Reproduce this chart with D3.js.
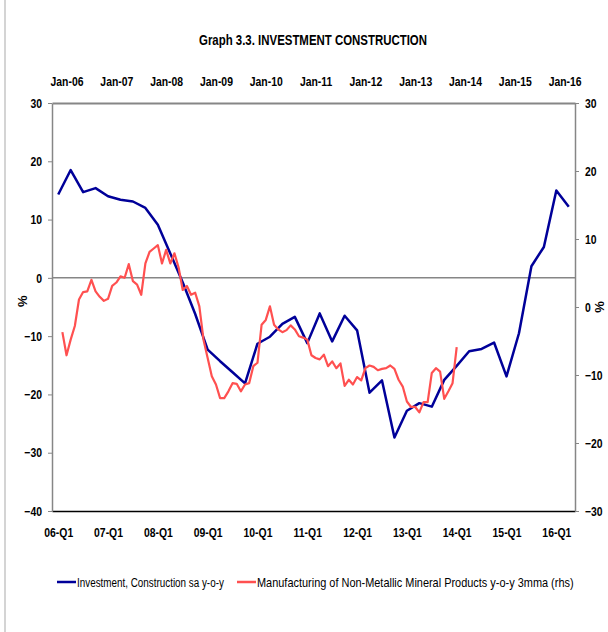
<!DOCTYPE html>
<html>
<head>
<meta charset="utf-8">
<style>
  body { margin: 0; background: #fff; }
  svg { display: block; font-family: "Liberation Sans", Arial, sans-serif; }
</style>
</head>
<body>
<svg id="chart" width="608" height="632"></svg>
<script src="https://cdn.jsdelivr.net/npm/d3@7/dist/d3.min.js"></script>
<script>
  // Investment, Construction sa y-o-y, quarterly 06-Q1 .. 16-Q2 (left axis)
  const investment = [14.3, 18.5, 14.7, 15.4, 14.0, 13.4, 13.1, 12.0, 9.1, 4.2, -0.8, -6.2,
    -12.3, -14.3, -16.2, -18.1, -11.3, -10.1, -7.9, -6.7, -11.2, -6.1, -10.9, -6.5,
    -9.0, -19.7, -17.6, -27.4, -22.8, -21.5, -22.1, -17.5, -15.1, -12.6, -12.2, -11.1,
    -16.9, -9.5, 2.0, 5.3, 15.0, 12.2]

  // Non-metallic mineral products y-o-y 3mma, monthly Dec-05 .. Nov-13 (right axis)
  const minerals = [-3.7, -7.1, -4.8, -2.8, 1.1, 2.2, 2.3, 4.0, 2.3, 1.5,
    0.9, 1.2, 3.1, 3.6, 4.5, 4.3, 6.3, 3.8, 3.3, 1.8,
    6.4, 8.1, 8.6, 9.1, 6.4, 8.4, 6.4, 7.9, 5.8, 2.5,
    3.1, 1.8, 2.1, 0.1, -4.8, -7.5, -10.2, -11.4, -13.4, -13.4,
    -12.4, -11.2, -11.3, -12.4, -11.4, -11.2, -8.7, -8.2, -2.6, -1.9,
    0.1, -2.6, -3.3, -3.7, -3.4, -2.7, -3.3, -4.3, -4.5, -4.8,
    -7.1, -7.5, -7.7, -7.0, -8.7, -8.0, -9.0, -8.3, -11.6, -10.7,
    -11.4, -10.3, -10.8, -9.0, -8.6, -8.8, -9.3, -9.1, -9.0, -8.6,
    -9.1, -10.7, -11.7, -13.9, -14.7, -14.7, -15.5, -14.0, -14.0, -9.7,
    -9.0, -9.5, -13.5, -12.4, -11.2, -5.9]

  const quarterTicks = ['06-Q1', '07-Q1', '08-Q1', '09-Q1', '10-Q1', '11-Q1', '12-Q1', '13-Q1', '14-Q1', '15-Q1', '16-Q1']
  const monthTicks = ['Jan-06', 'Jan-07', 'Jan-08', 'Jan-09', 'Jan-10', 'Jan-11', 'Jan-12', 'Jan-13', 'Jan-14', 'Jan-15', 'Jan-16']
  const leftTicks = [30, 20, 10, 0, -10, -20, -30, -40]
  const rightTicks = [30, 20, 10, 0, -10, -20, -30]

  const title = 'Graph 3.3. INVESTMENT CONSTRUCTION'
  const legendLabels = ['Investment, Construction sa y-o-y', 'Manufacturing of Non-Metallic Mineral Products y-o-y 3mma (rhs)']
  const colors = ['#000099', '#ff5050']

  // plot box
  const plotLeft = 52, plotRight = 575, plotTop = 103, plotBottom = 511

  // no narrow font installed: squeeze text horizontally like Calibri
  function squeeze(sel, k) {
    sel.each(function () {
      const len = this.getComputedTextLength()
      d3.select(this).attr('textLength', len * k).attr('lengthAdjust', 'spacingAndGlyphs')
    })
  }

  // quarter categories 06-Q1 .. 16-Q2
  const quarters = []
  for (let y = 6; y <= 16; y++) {
    for (let q = 1; q <= 4; q++) {
      if (quarters.length < investment.length) quarters.push(String(y).padStart(2, '0') + '-Q' + q)
    }
  }
  // month categories Oct-05 .. Mar-16 for the top axis
  const fmt = d3.timeFormat('%b-%y')
  const months = d3.timeMonth.range(new Date(2005, 9, 1), new Date(2016, 3, 1)).map(fmt)
  const mineralMonths = d3.timeMonth.range(new Date(2005, 11, 1), new Date(2013, 11, 1)).map(fmt)

  const xQ = d3.scalePoint().domain(quarters).range([plotLeft, plotRight]).padding(0.5)
  const xM = d3.scalePoint().domain(months).range([plotLeft, plotRight]).padding(0.5)
  const yL = d3.scaleLinear().domain([-40, 30]).range([plotBottom, plotTop])
  const yR = d3.scaleLinear().domain([-30, 30]).range([plotBottom, plotTop])

  const svg = d3.select('#chart')

  svg.append('rect').attr('width', 608).attr('height', 632).attr('fill', '#fff')
  // frame edge on the left
  svg.append('line').attr('x1', 5).attr('x2', 5).attr('y1', 0).attr('y2', 632)
    .attr('stroke', '#d4d4d4').attr('stroke-width', 2)

  svg.append('text')
    .attr('x', 313).attr('y', 45)
    .attr('text-anchor', 'middle')
    .style('font-size', '15px').style('font-weight', 'bold')
    .attr('textLength', 228).attr('lengthAdjust', 'spacingAndGlyphs')
    .text(title)

  // zero line of the left axis
  svg.append('line')
    .attr('x1', plotLeft).attr('x2', plotRight)
    .attr('y1', yL(0)).attr('y2', yL(0))
    .attr('stroke', '#868686').attr('stroke-width', 1.5)

  // top axis (months)
  const topAxis = svg.append('g')
    .attr('transform', `translate(0,${plotTop})`)
    .call(d3.axisTop(xM).tickValues(monthTicks).tickSize(0).tickPadding(17))
  topAxis.select('.domain').attr('stroke', '#868686').attr('stroke-width', 2)

  // bottom axis (quarters)
  const bottomAxis = svg.append('g')
    .attr('transform', `translate(0,${plotBottom})`)
    .call(d3.axisBottom(xQ).tickValues(quarterTicks).tickSize(0).tickPadding(17))
  bottomAxis.select('.domain').attr('stroke', '#000').attr('stroke-width', 1.5)

  const leftAxis = svg.append('g')
    .attr('transform', `translate(${plotLeft},0)`)
    .call(d3.axisLeft(yL).tickValues(leftTicks).tickSize(4).tickPadding(6).tickSizeOuter(0))
  leftAxis.select('.domain').attr('stroke', '#868686').attr('stroke-width', 1.5)

  const rightAxis = svg.append('g')
    .attr('transform', `translate(${plotRight},0)`)
    .call(d3.axisRight(yR).tickValues(rightTicks).tickSize(4).tickPadding(6).tickSizeOuter(0))
  rightAxis.select('.domain').attr('stroke', '#868686').attr('stroke-width', 1.5)

  svg.selectAll('.tick line').attr('stroke', '#868686')
  svg.selectAll('g').attr('font-family', null).attr('font-size', null)
  svg.selectAll('.tick text')
    .style('font-size', '13px').style('font-weight', 'bold').attr('fill', '#000')
    .call(squeeze, 0.8)

  // axis titles
  svg.append('text')
    .attr('transform', `translate(27,${yL(-4)}) rotate(-90)`)
    .attr('text-anchor', 'middle')
    .style('font-size', '13px').style('font-weight', 'bold')
    .text('%')
  svg.append('text')
    .attr('transform', `translate(604,${yR(0)}) rotate(-90)`)
    .attr('text-anchor', 'middle')
    .style('font-size', '13px').style('font-weight', 'bold')
    .text('%')

  // lines
  const lineQ = d3.line().x((d, i) => xQ(quarters[i])).y(d => yL(d))
  const lineM = d3.line().x((d, i) => xM(mineralMonths[i])).y(d => yR(d))

  svg.append('path')
    .datum(investment)
    .attr('d', lineQ)
    .attr('fill', 'none')
    .attr('stroke', colors[0])
    .attr('stroke-width', 2.5)
    .attr('stroke-linejoin', 'round')

  svg.append('path')
    .datum(minerals)
    .attr('d', lineM)
    .attr('fill', 'none')
    .attr('stroke', colors[1])
    .attr('stroke-width', 2.2)
    .attr('stroke-linejoin', 'round')

  // legend
  const legendX = [57, 237]
  const legendW = [147, 317]
  const legend = svg.selectAll('.legend')
    .data(legendLabels)
    .enter()
    .append('g')
    .attr('class', 'legend')
    .attr('transform', (d, i) => `translate(${legendX[i]},582)`)
  legend.append('line')
    .attr('x1', 0).attr('x2', 19)
    .attr('stroke', (d, i) => colors[i])
    .attr('stroke-width', 2.5)
  legend.append('text')
    .style('font-size', '12.5px')
    .text(d => d)
    .each(function (d, i) {
      // scale the glyphs so the real box is as narrow as the reference
      const k = legendW[i] / this.getComputedTextLength()
      d3.select(this).attr('transform', `translate(20,4.5) scale(${k},1)`)
    })
</script>
</body>
</html>
